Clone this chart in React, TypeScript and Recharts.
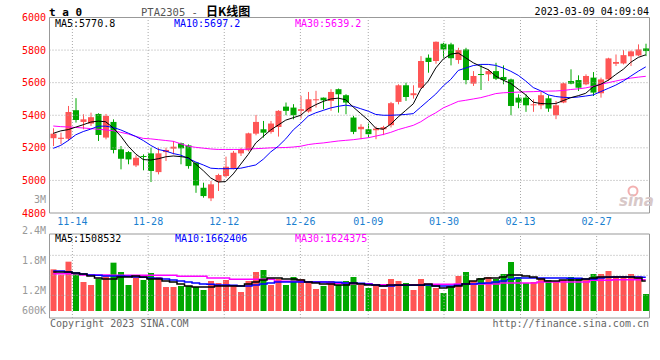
import React from 'react';
import { ComposedChart, Bar, Line, XAxis, YAxis, ReferenceLine, ReferenceArea, Cell } from 'recharts';

const MONO = '"DejaVu Sans Mono", "Liberation Mono", monospace';
const UP = '#ff5555';
const DOWN = '#00a800';
const GRID = '#a8a8a8';
const FRAME = '#999999';

// daily candles, PTA2305
const OPEN = [
  5259, 5255, 5256, 5431, 5359, 5349, 5408, 5263, 5359, 5191,
  5174, 5092, 5150, 5166, 5051, 5174, 5195, 5228, 5215, 5109,
  4955, 4890, 4992, 5027, 5072, 5166, 5185, 5287, 5314, 5297,
  5328, 5453, 5447, 5427, 5423, 5492, 5508, 5488, 5560, 5523,
  5386, 5314, 5314, 5308, 5314, 5339, 5482, 5584, 5523, 5569,
  5753, 5733, 5839, 5835, 5739, 5804, 5594, 5653, 5651, 5671,
  5635, 5620, 5508, 5508, 5461, 5461, 5504, 5400, 5478, 5610,
  5616, 5590, 5631, 5535, 5620, 5716, 5718, 5762, 5767, 5810,
];
const HIGH = [
  5320, 5293, 5457, 5505, 5406, 5416, 5412, 5408, 5375, 5211,
  5180, 5154, 5160, 5201, 5201, 5201, 5242, 5232, 5221, 5113,
  4986, 4996, 5041, 5146, 5181, 5201, 5293, 5402, 5365, 5365,
  5431, 5478, 5468, 5519, 5543, 5550, 5509, 5560, 5564, 5529,
  5396, 5345, 5349, 5331, 5335, 5482, 5590, 5600, 5584, 5763,
  5773, 5853, 5845, 5845, 5814, 5814, 5671, 5712, 5682, 5722,
  5706, 5625, 5529, 5529, 5498, 5543, 5523, 5488, 5600, 5682,
  5645, 5651, 5665, 5631, 5753, 5773, 5800, 5798, 5835, 5839,
];
const LOW = [
  5211, 5222, 5242, 5355, 5314, 5334, 5242, 5252, 5166, 5068,
  5099, 5082, 5062, 4990, 5037, 5119, 5160, 5099, 5072, 4924,
  4894, 4873, 4935, 5017, 5068, 5150, 5178, 5277, 5263, 5287,
  5269, 5400, 5375, 5380, 5416, 5447, 5437, 5427, 5416, 5406,
  5284, 5253, 5263, 5253, 5278, 5325, 5467, 5488, 5502, 5563,
  5661, 5716, 5753, 5706, 5716, 5590, 5580, 5555, 5610, 5616,
  5590, 5400, 5443, 5421, 5421, 5437, 5421, 5376, 5474, 5590,
  5549, 5584, 5518, 5508, 5610, 5702, 5712, 5702, 5763, 5763,
];
const CLOSE = [
  5287, 5262, 5420, 5371, 5375, 5388, 5279, 5396, 5187, 5133,
  5129, 5139, 5144, 5058, 5166, 5187, 5207, 5197, 5088, 4969,
  4904, 4976, 5033, 5084, 5170, 5191, 5289, 5359, 5293, 5349,
  5427, 5427, 5400, 5437, 5498, 5498, 5492, 5543, 5529, 5478,
  5298, 5329, 5284, 5318, 5327, 5474, 5584, 5512, 5535, 5733,
  5727, 5851, 5804, 5750, 5800, 5616, 5641, 5647, 5671, 5624,
  5616, 5457, 5478, 5461, 5467, 5523, 5441, 5461, 5596, 5594,
  5569, 5641, 5539, 5620, 5749, 5727, 5769, 5792, 5804, 5794,
];

// moving averages as drawn
const MA5 = [
  5289, 5304, 5312, 5327, 5342, 5358, 5364, 5360, 5322, 5272,
  5210, 5162, 5128, 5125, 5133, 5145, 5150, 5146, 5140, 5100,
  5060, 5015, 4990, 4993, 5040, 5100, 5160, 5230, 5270, 5310,
  5340, 5370, 5385, 5400, 5440, 5465, 5485, 5500, 5505, 5495,
  5450, 5410, 5370, 5320, 5314, 5345, 5390, 5430, 5470, 5560,
  5610, 5690, 5745, 5775, 5782, 5752, 5722, 5700, 5680, 5640,
  5615, 5595, 5560, 5525, 5480, 5472, 5470, 5472, 5490, 5508,
  5520, 5535, 5575, 5590, 5615, 5650, 5682, 5725, 5755, 5771,
];
const MA10 = [
  5197, 5215, 5245, 5280, 5300, 5315, 5333, 5333, 5325, 5310,
  5290, 5270, 5245, 5215, 5190, 5180, 5165, 5155, 5135, 5113,
  5095, 5075, 5072, 5072, 5072, 5075, 5085, 5095, 5130, 5175,
  5210, 5255, 5310, 5350, 5395, 5415, 5430, 5445, 5455, 5462,
  5455, 5440, 5425, 5405, 5400, 5400, 5402, 5405, 5410, 5450,
  5490, 5530, 5580, 5620, 5675, 5690, 5705, 5712, 5712, 5706,
  5690, 5670, 5645, 5610, 5570, 5550, 5525, 5515, 5510, 5508,
  5512, 5518, 5525, 5545, 5565, 5585, 5610, 5640, 5670, 5697,
];
const MA30 = [
  5334, 5330, 5328, 5325, 5322, 5318, 5314, 5310, 5305, 5295,
  5285, 5270, 5258, 5255, 5250, 5245, 5240, 5225, 5210, 5203,
  5198, 5193, 5190, 5190, 5190, 5190, 5192, 5195, 5197, 5200,
  5201, 5202, 5205, 5210, 5220, 5226, 5230, 5236, 5242, 5246,
  5250, 5256, 5262, 5272, 5282, 5295, 5312, 5325, 5338, 5360,
  5390, 5415, 5445, 5465, 5485, 5492, 5500, 5508, 5520, 5533,
  5538, 5540, 5542, 5544, 5545, 5547, 5548, 5549, 5552, 5558,
  5562, 5568, 5578, 5590, 5600, 5610, 5620, 5628, 5634, 5639,
];

// volume, millions
const VOL = [
  1.98, 1.82, 2.21, 1.85, 1.60, 1.51, 1.70, 1.77, 2.18, 1.90,
  1.51, 1.75, 1.66, 1.87, 1.75, 1.45, 1.45, 1.48, 1.48, 1.45,
  1.36, 1.63, 1.57, 1.66, 1.48, 1.30, 1.63, 1.90, 1.96, 1.51,
  1.69, 1.51, 1.75, 1.69, 1.60, 1.39, 1.48, 1.63, 1.51, 1.63,
  1.75, 1.51, 1.42, 1.51, 1.39, 1.69, 1.63, 1.57, 1.36, 1.69,
  1.54, 1.42, 1.27, 1.48, 1.78, 1.90, 1.63, 1.72, 1.75, 1.69,
  1.84, 2.20, 1.75, 1.57, 1.60, 1.72, 1.66, 1.60, 1.66, 1.75,
  1.69, 1.69, 1.84, 1.84, 1.93, 1.78, 1.78, 1.84, 1.78, 1.24,
];
const VMA5 = [
  1.90, 1.90, 1.90, 1.87, 1.84, 1.78, 1.72, 1.69, 1.69, 1.75,
  1.75, 1.78, 1.75, 1.69, 1.69, 1.63, 1.60, 1.54, 1.48, 1.45,
  1.45, 1.45, 1.48, 1.48, 1.48, 1.48, 1.54, 1.60, 1.66, 1.72,
  1.72, 1.69, 1.69, 1.66, 1.60, 1.57, 1.54, 1.54, 1.51, 1.51,
  1.57, 1.54, 1.51, 1.51, 1.48, 1.51, 1.51, 1.51, 1.51, 1.51,
  1.54, 1.48, 1.42, 1.45, 1.48, 1.54, 1.63, 1.69, 1.72, 1.72,
  1.75, 1.81, 1.81, 1.78, 1.75, 1.69, 1.63, 1.63, 1.66, 1.66,
  1.66, 1.69, 1.72, 1.75, 1.75, 1.75, 1.75, 1.75, 1.72, 1.63,
];
const VMA10 = [
  1.93, 1.93, 1.90, 1.87, 1.84, 1.81, 1.80, 1.78, 1.78, 1.78,
  1.77, 1.75, 1.74, 1.72, 1.71, 1.69, 1.66, 1.63, 1.60, 1.57,
  1.54, 1.53, 1.51, 1.51, 1.50, 1.48, 1.48, 1.51, 1.54, 1.57,
  1.60, 1.60, 1.60, 1.60, 1.60, 1.60, 1.60, 1.60, 1.59, 1.57,
  1.57, 1.56, 1.53, 1.51, 1.48, 1.48, 1.50, 1.50, 1.50, 1.50,
  1.51, 1.48, 1.48, 1.48, 1.50, 1.54, 1.54, 1.56, 1.57, 1.60,
  1.63, 1.68, 1.72, 1.72, 1.72, 1.72, 1.72, 1.72, 1.72, 1.71,
  1.71, 1.69, 1.69, 1.72, 1.74, 1.75, 1.75, 1.75, 1.75, 1.74,
];
const VMA30 = [
  1.85, 1.85, 1.85, 1.85, 1.81, 1.81, 1.81, 1.81, 1.80, 1.80,
  1.80, 1.80, 1.80, 1.80, 1.80, 1.80, 1.80, 1.77, 1.77, 1.77,
  1.77, 1.72, 1.72, 1.72, 1.68, 1.68, 1.68, 1.68, 1.68, 1.68,
  1.62, 1.62, 1.62, 1.62, 1.60, 1.60, 1.60, 1.56, 1.56, 1.56,
  1.55, 1.55, 1.55, 1.52, 1.52, 1.52, 1.52, 1.52, 1.52, 1.52,
  1.53, 1.53, 1.53, 1.53, 1.54, 1.54, 1.54, 1.54, 1.54, 1.54,
  1.57, 1.57, 1.57, 1.57, 1.57, 1.60, 1.60, 1.60, 1.60, 1.60,
  1.60, 1.60, 1.65, 1.65, 1.65, 1.67, 1.67, 1.67, 1.67, 1.67,
];

// axes
const X_TICK_POS = [3.05, 13.15, 23.3, 33.45, 42.5, 52.6, 62.8, 72.95];
const X_TICK_LABELS = ['11-14', '11-28', '12-12', '12-26', '01-09', '01-30', '02-13', '02-27'];
const PRICE_TICKS = [4800, 5000, 5200, 5400, 5600, 5800, 6000];
const PRICE_GRID = [5000, 5200, 5400, 5600, 5800];
const VOL_DOMAIN = [0.52, 3.04];
const VOL_FLOOR = 0.73;
const VOL_GRID = [1.2, 1.8, 2.4];
const VOL_TICKS = [0.6, 1.2, 1.8, 2.4, 3.0];
const VOL_TICK_LABELS = ['600K', '1.2M', '1.8M', '2.4M', '3M'];
const VOL_LABEL_SHIFT = [-4.6, -4.6, -14.6, -24.6, -36.3];

const rows = OPEN.map((o, i) => ({
  idx: i + 0.5,
  open: o,
  high: HIGH[i],
  low: LOW[i],
  close: CLOSE[i],
  ma5: MA5[i],
  ma10: MA10[i],
  ma30: MA30[i],
  vol: VOL[i],
  vma5: VMA5[i],
  vma10: VMA10[i],
  vma30: VMA30[i],
}));

const Candle = (props: any) => {
  const { x, y, width, height, payload } = props;
  if (!payload || height == null) return null;
  const { open, close, high, low } = payload;
  const color = close >= open ? UP : DOWN;
  const h = Math.abs(height);
  const k = high - low > 0 ? h / (high - low) : 0;
  const yo = y + (high - open) * k;
  const yc = y + (high - close) * k;
  const cx = x + width / 2;
  return (
    <g>
      <line x1={cx} x2={cx} y1={y} y2={y + h} stroke={color} strokeWidth={1} />
      <rect x={x} y={Math.min(yo, yc)} width={width} height={Math.max(1, Math.abs(yo - yc))} fill={color} />
    </g>
  );
};

const VolTick = (props: any) => {
  const { x, y, payload } = props;
  const i = VOL_TICKS.indexOf(payload.value);
  if (i < 0) return null;
  return (
    <text x={x} y={y + VOL_LABEL_SHIFT[i]} dy="0.36em" textAnchor="end" fill="#999" fontSize={10} fontFamily={MONO}>
      {VOL_TICK_LABELS[i]}
    </text>
  );
};

const layer: React.CSSProperties = { position: 'absolute', left: 0, top: 0 };

export default function App() {
  return (
    <div style={{ position: 'relative', width: 660, height: 360, background: '#fff', overflow: 'hidden' }}>
      <style>{'body{margin:0}'}</style>

      {/* price panel */}
      <div style={layer}>
        <ComposedChart width={660} height={360} data={rows} margin={{ top: 17.5, right: 10.5, bottom: 117, left: 0 }}>
          <XAxis
            dataKey="idx"
            type="number"
            domain={[0, 80]}
            ticks={X_TICK_POS}
            interval={0}
            tickFormatter={(v: number) => X_TICK_LABELS[X_TICK_POS.indexOf(v)] ?? ''}
            tickLine={false}
            axisLine={false}
            tickSize={0}
            tickMargin={5}
            height={30}
            tick={{ fill: '#1a80d0', fontSize: 10, fontFamily: MONO }}
          />
          <YAxis
            yAxisId="p"
            domain={[4800, 6000]}
            ticks={PRICE_TICKS}
            interval={0}
            width={49.5}
            tickLine={false}
            axisLine={false}
            tickSize={0}
            tickMargin={3.5}
            tick={{ fill: '#f00', fontSize: 10, fontFamily: MONO }}
          />
          {PRICE_GRID.map((v) => (
            <ReferenceLine key={`pg${v}`} yAxisId="p" y={v} stroke={GRID} strokeDasharray="1 2" />
          ))}
          {X_TICK_POS.map((v) => (
            <ReferenceLine key={`px${v}`} yAxisId="p" x={v} stroke={GRID} strokeDasharray="1 2" />
          ))}
          <Bar yAxisId="p" dataKey={(d: any) => [d.low, d.high]} barSize={6} shape={<Candle />} isAnimationActive={false} />
          <Line yAxisId="p" dataKey="ma30" stroke="#ff00ff" strokeWidth={1} dot={false} isAnimationActive={false} />
          <Line yAxisId="p" dataKey="ma10" stroke="#0000ff" strokeWidth={1} dot={false} isAnimationActive={false} />
          <Line yAxisId="p" dataKey="ma5" stroke="#000" strokeWidth={1} dot={false} isAnimationActive={false} />
          <ReferenceArea yAxisId="p" x1={0} x2={80} y1={4800} y2={6000} fill="none" stroke={FRAME} strokeWidth={1} />
        </ComposedChart>
      </div>

      {/* volume panel */}
      <div style={layer}>
        <ComposedChart width={660} height={360} data={rows} margin={{ top: 234, right: 10.5, bottom: 42, left: 0 }}>
          <XAxis dataKey="idx" type="number" domain={[0, 80]} hide />
          <YAxis
            yAxisId="v"
            domain={VOL_DOMAIN}
            ticks={VOL_TICKS}
            interval={0}
            width={49.5}
            tickLine={false}
            axisLine={false}
            tickSize={0}
            tickMargin={3.5}
            tick={<VolTick />}
          />
          {VOL_GRID.map((v) => (
            <ReferenceLine key={`vg${v}`} yAxisId="v" y={v} stroke={GRID} strokeDasharray="1 2" />
          ))}
          {X_TICK_POS.map((v) => (
            <ReferenceLine key={`vx${v}`} yAxisId="v" x={v} stroke={GRID} strokeDasharray="1 2" />
          ))}
          <Bar yAxisId="v" dataKey={(d: any) => [VOL_FLOOR, d.vol]} barSize={6} isAnimationActive={false}>
            {rows.map((r, i) => (
              <Cell key={i} fill={r.close >= r.open ? UP : DOWN} />
            ))}
          </Bar>
          <Line yAxisId="v" type="step" dataKey="vma30" stroke="#ff00ff" strokeWidth={1.5} dot={false} isAnimationActive={false} />
          <Line yAxisId="v" type="step" dataKey="vma10" stroke="#0000ff" strokeWidth={1.5} dot={false} isAnimationActive={false} />
          <Line yAxisId="v" type="step" dataKey="vma5" stroke="#000" strokeWidth={1.5} dot={false} isAnimationActive={false} />
          <ReferenceArea yAxisId="v" x1={0} x2={80} y1={VOL_DOMAIN[0]} y2={VOL_DOMAIN[1]} fill="none" stroke={FRAME} strokeWidth={1} />
        </ComposedChart>
      </div>

      {/* titles, legends, footer */}
      <svg width={660} height={360} style={{ ...layer, pointerEvents: 'none' }} fontFamily={MONO} fontSize={10}>
        <text x={49} y={16} fontSize={11} fontWeight="bold" fill="#000">t a 0</text>
        <text x={141} y={15.5} fontSize={10.5} fill="#555">PTA2305 -</text>
        <text x={206} y={16} fontSize={12} fontWeight="bold" fill="#000" fontFamily='"Noto Sans CJK SC", sans-serif'>日K线图</text>
        <text x={649} y={15} textAnchor="end" fill="#000">2023-03-09 04:09:04</text>

        <text x={55} y={27} fill="#000">MA5:5770.8</text>
        <text x={174} y={27} fill="#0000ff">MA10:5697.2</text>
        <text x={295} y={27} fill="#ff00ff">MA30:5639.2</text>

        <text x={55} y={242} fill="#000">MA5:1508532</text>
        <text x={175} y={242} fill="#0000ff">MA10:1662406</text>
        <text x={295} y={242} fill="#ff00ff">MA30:1624375</text>

        <text x={50} y={327} fill="#666">Copyright 2023 SINA.COM</text>
        <text x={649} y={327} textAnchor="end" fill="#666">http://finance.sina.com.cn</text>

        <circle cx={633} cy={191} r={4.5} fill="none" stroke="#f3b0b0" strokeWidth={2} />
        <text x={619} y={206} fontSize={15} fontStyle="italic" fontWeight="bold" fill="#d8c8c8" fontFamily='"DejaVu Sans", sans-serif'>sina</text>
      </svg>
    </div>
  );
}
